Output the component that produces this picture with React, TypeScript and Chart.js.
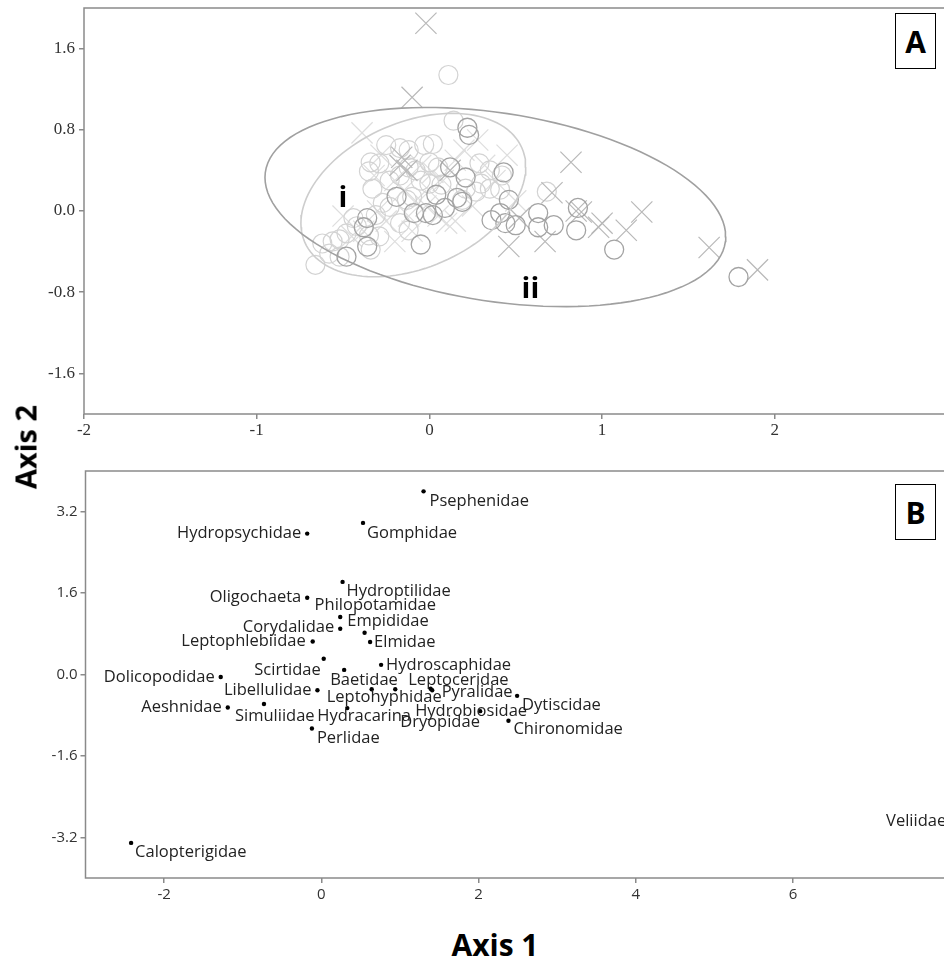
import React, { useEffect, useRef } from "react";
import { Chart, registerables } from "chart.js";
Chart.register(...registerables);

// ---------- Panel A: sample ordination ----------
const groupICircles: [number, number][] = [
  [0.14, 0.89], [0.11, 1.34], [0.02, 0.66], [-0.03, 0.65], [-0.25, 0.65], [-0.17, 0.62], [-0.12, 0.6],
  [-0.34, 0.48], [-0.29, 0.47], [-0.35, 0.39], [-0.12, 0.43], [-0.08, 0.4], [0.0, 0.48], [0.05, 0.43],
  [-0.23, 0.3], [-0.17, 0.35], [-0.05, 0.3], [0.0, 0.27], [0.07, 0.26], [-0.33, 0.22], [0.21, 0.22],
  [0.3, 0.27], [0.35, 0.22], [0.41, 0.21], [-0.27, 0.08], [-0.23, 0.04], [-0.13, 0.11], [-0.1, 0.14],
  [-0.31, -0.04], [-0.44, -0.07], [-0.42, -0.15], [-0.48, -0.22], [-0.56, -0.3], [-0.52, -0.28],
  [-0.62, -0.32], [-0.35, -0.24], [-0.29, -0.25], [-0.17, -0.12], [-0.12, -0.19], [-0.58, -0.42],
  [-0.52, -0.45], [-0.66, -0.53], [0.19, 0.11], [0.27, 0.19], [0.29, 0.47], [0.35, 0.4], [-0.34, -0.38],
  [0.42, 0.35], [0.68, 0.19],
];
const groupICrosses: [number, number][] = [
  [-0.39, 0.77], [-0.28, 0.55], [-0.2, 0.3], [-0.15, 0.2], [-0.08, 0.1], [-0.02, 0.05], [0.05, -0.05],
  [0.1, -0.12], [-0.3, 0.0], [-0.38, -0.2], [-0.45, -0.25], [-0.25, -0.1], [-0.2, -0.3], [-0.1, -0.2],
  [0.0, 0.2], [0.08, 0.3], [0.15, 0.5], [0.2, 0.6], [0.28, 0.7], [0.32, 0.45], [0.38, 0.3], [0.25, 0.05],
  [0.15, -0.1], [-0.05, 0.45], [-0.32, 0.35], [0.45, 0.55], [0.5, 0.1], [-0.5, -0.05], [0.02, 0.38],
  [-0.12, -0.05],
];
const groupIICircles: [number, number][] = [
  [1.79, -0.65], [1.07, -0.38], [0.85, -0.19], [0.86, 0.03], [0.72, -0.14], [0.63, -0.02], [0.63, -0.16],
  [0.5, -0.14], [0.44, -0.12], [0.36, -0.09], [0.41, -0.02], [0.46, 0.11], [0.43, 0.38], [0.21, 0.33],
  [0.12, 0.43], [0.22, 0.82], [0.23, 0.75], [0.16, 0.13], [0.19, 0.09], [0.09, 0.03], [0.04, 0.16],
  [0.02, -0.04], [-0.02, -0.02], [-0.09, -0.02], [-0.05, -0.33], [-0.19, 0.14], [-0.36, -0.07],
  [-0.38, -0.16], [-0.36, -0.35], [-0.48, -0.45],
];
const groupIICrosses: [number, number][] = [
  [1.9, -0.58], [1.62, -0.36], [1.23, -0.01], [1.14, -0.19], [0.98, -0.16], [1.0, -0.12], [0.88, -0.01],
  [0.85, 0.0], [0.82, 0.48], [0.71, 0.18], [0.67, -0.3], [0.46, -0.35], [0.52, -0.07], [-0.02, 1.85],
  [-0.1, 1.12], [-0.16, 0.53], [-0.17, 0.45], [-0.13, 0.4], [0.12, 0.4],
];
// ellipses: centre, spread along each axis, correlation
const ellipseI = { cx: -0.093, cy: 0.157, sx: 0.651, sy: 0.805, r: 0.345 };
const ellipseII = { cx: 0.382, cy: 0.039, sx: 1.334, sy: 0.981, r: -0.297 };
const groupLabels = ["i", "ii"];
const groupLabelPos: [number, number][] = [[-0.5, 0.12], [0.585, -0.775]];
const aXTicks = [-2, -1, 0, 1, 2];
const aYTicks = [-1.6, -0.8, 0, 0.8, 1.6];

// ---------- Panel B: family scores ----------
const families = [
  "Psephenidae", "Gomphidae", "Hydropsychidae", "Hydroptilidae", "Oligochaeta", "Philopotamidae",
  "Empididae", "Corydalidae", "Leptophlebiidae", "Elmidae", "Dolicopodidae", "Scirtidae",
  "Hydroscaphidae", "Baetidae", "Leptoceridae", "Libellulidae", "Leptohyphidae", "Pyralidae",
  "Dytiscidae", "Aeshnidae", "Simuliidae", "Hydracarina", "Hydrobiosidae", "Dryopidae",
  "Chironomidae", "Perlidae", "Calopterigidae", "Veliidae",
];
const familyAxis1 = [
  1.3, 0.53, -0.18, 0.27, -0.18, 0.55, 0.24, 0.24, -0.11, 0.62, -1.28, 0.03, 0.76, 0.29, 0.94, -0.05,
  0.64, 1.39, 2.49, -1.19, -0.73, 0.33, 2.02, 1.41, 2.38, -0.12, -2.42, 8.05,
];
const familyAxis2 = [
  3.6, 2.98, 2.77, 1.82, 1.51, 0.82, 1.13, 0.9, 0.65, 0.64, -0.05, 0.31, 0.19, 0.09, -0.29, -0.31,
  -0.29, -0.28, -0.42, -0.65, -0.58, -0.66, -0.72, -0.31, -0.91, -1.06, -3.31, -2.75,
];
// label placement relative to its point (pixels) and text alignment
const familyLabelPlacement: [number, number, CanvasTextAlign][] = [
  [6, 10, "left"], [4, 10, "left"], [-6, 0, "right"], [4, 9, "left"], [-6, 0, "right"], [-50, -27, "left"],
  [7, 4, "left"], [-6, -1, "right"], [-7, 0, "right"], [4, 0, "left"], [-6, 0, "right"], [-3, 12, "right"],
  [5, 0, "left"], [-14, 10, "left"], [13, -9, "left"], [-6, 0, "right"], [-45, 8, "left"], [11, 4, "left"],
  [5, 9, "left"], [-6, 0, "right"], [-29, 12, "left"], [-30, 8, "left"], [-65, 0, "left"], [-32, 32, "left"],
  [5, 9, "left"], [5, 10, "left"], [4, 9, "left"], [-8, 7, "right"],
];
const bXTicks = [-2, 0, 2, 4, 6];
const bYTicks = [-3.2, -1.6, 0, 1.6, 3.2];

function ellipsePoints(e: { cx: number; cy: number; sx: number; sy: number; r: number }) {
  const pts: { x: number; y: number }[] = [];
  const n = 120;
  const k = Math.sqrt(1 - e.r * e.r);
  for (let i = 0; i <= n; i++) {
    const t = (i / n) * Math.PI * 2;
    pts.push({ x: e.cx + e.sx * Math.cos(t), y: e.cy + e.sy * (e.r * Math.cos(t) + k * Math.sin(t)) });
  }
  return pts;
}
const toXY = (arr: [number, number][]) => arr.map(([x, y]) => ({ x, y }));

const boxPlugin = {
  id: "panelBox",
  afterDraw(chart: any) {
    const { ctx, chartArea: a } = chart;
    ctx.save();
    ctx.strokeStyle = "#8a8a8a";
    ctx.lineWidth = 1.5;
    ctx.strokeRect(a.left, a.top, a.right - a.left + 10, a.bottom - a.top);
    ctx.restore();
  },
};

const groupLabelPlugin = {
  id: "groupLabels",
  afterDatasetsDraw(chart: any) {
    const { ctx, scales } = chart;
    ctx.save();
    ctx.font = 'bold 29px "Open Sans"';
    ctx.fillStyle = "#000";
    ctx.textAlign = "center";
    ctx.textBaseline = "middle";
    groupLabels.forEach((t, i) => {
      ctx.fillText(t, scales.x.getPixelForValue(groupLabelPos[i][0]), scales.y.getPixelForValue(groupLabelPos[i][1]));
    });
    ctx.restore();
  },
};

const familyLabelPlugin = {
  id: "familyLabels",
  afterDatasetsDraw(chart: any) {
    const { ctx } = chart;
    const meta = chart.getDatasetMeta(0);
    ctx.save();
    ctx.font = '16.5px "Open Sans"';
    ctx.fillStyle = "#222";
    ctx.textBaseline = "middle";
    meta.data.forEach((pt: any, i: number) => {
      const [dx, dy, al] = familyLabelPlacement[i];
      ctx.textAlign = al;
      ctx.fillText(families[i], pt.x + dx, pt.y + dy);
    });
    ctx.restore();
  },
};

function tickSetter(values: number[]) {
  return (s: any) => {
    s.ticks = values.map((v) => ({ value: v }));
  };
}
function fitX(h: number) {
  return (s: any) => { s.height = h; s.paddingLeft = 0; s.paddingRight = 0; };
}
function fitY(w: number) {
  return (s: any) => { s.width = w; s.paddingTop = 0; s.paddingBottom = 0; };
}

export default function App() {
  const refA = useRef<HTMLCanvasElement>(null);
  const refB = useRef<HTMLCanvasElement>(null);

  useEffect(() => {
    const tickGrid = { display: true, drawOnChartArea: false, drawTicks: true, tickLength: 5, color: "#8a8a8a", lineWidth: 1.5 };
    const chartA = new Chart(refA.current!, {
      type: "scatter",
      data: {
        datasets: [
          { data: ellipsePoints(ellipseII), showLine: true, pointRadius: 0, borderColor: "#a0a0a0", borderWidth: 1.6, order: 0 } as any,
          { data: ellipsePoints(ellipseI), showLine: true, pointRadius: 0, borderColor: "#cdcdcd", borderWidth: 1.6, order: 1 } as any,
          { data: toXY(groupIICircles), pointStyle: "circle", pointRadius: 9.5, pointBorderWidth: 1.3, pointBorderColor: "#a3a3a3", pointBackgroundColor: "rgba(0,0,0,0)", order: 2 },
          { data: toXY(groupIICrosses), pointStyle: "crossRot", pointRadius: 15, pointBorderWidth: 1.2, pointBorderColor: "#b8b8b8", pointBackgroundColor: "rgba(0,0,0,0)", order: 3 },
          { data: toXY(groupICircles), pointStyle: "circle", pointRadius: 9.5, pointBorderWidth: 1.2, pointBorderColor: "#d3d3d3", pointBackgroundColor: "rgba(0,0,0,0)", order: 4 },
          { data: toXY(groupICrosses), pointStyle: "crossRot", pointRadius: 15, pointBorderWidth: 1.2, pointBorderColor: "#dedede", pointBackgroundColor: "rgba(0,0,0,0)", order: 5 },
        ],
      },
      options: {
        responsive: false,
        animation: false,
        devicePixelRatio: 1,
        events: [],
        layout: { autoPadding: false, padding: { left: 0, top: 8, right: 0, bottom: 0 } },
        plugins: { legend: { display: false }, tooltip: { enabled: false } },
        scales: {
          x: {
            type: "linear", min: -2, max: 2.98,
            afterBuildTicks: tickSetter(aXTicks),
            afterFit: fitX(26),
            grid: tickGrid, border: { display: false },
            ticks: { color: "#333", padding: 1, font: { family: "Liberation Serif", size: 17 }, callback: (v: any) => String(v) },
          },
          y: {
            type: "linear", min: -2, max: 2,
            afterBuildTicks: tickSetter(aYTicks),
            afterFit: fitY(84),
            grid: tickGrid, border: { display: false },
            ticks: { color: "#333", padding: 4, font: { family: "Liberation Serif", size: 17 }, callback: (v: any) => Number(v).toFixed(1) },
          },
        },
      },
      plugins: [boxPlugin, groupLabelPlugin],
    });

    const chartB = new Chart(refB.current!, {
      type: "scatter",
      data: {
        datasets: [
          {
            data: familyAxis1.map((x, i) => ({ x, y: familyAxis2[i] })),
            pointStyle: "circle", pointRadius: 2.2, pointBorderWidth: 0, pointBackgroundColor: "#000",
          },
        ],
      },
      options: {
        responsive: false,
        animation: false,
        devicePixelRatio: 1,
        events: [],
        layout: { autoPadding: false, padding: { left: 0, top: 11, right: 0, bottom: 0 } },
        plugins: { legend: { display: false }, tooltip: { enabled: false } },
        scales: {
          x: {
            type: "linear", min: -3, max: 7.92,
            afterBuildTicks: tickSetter(bXTicks),
            afterFit: fitX(32),
            grid: tickGrid, border: { display: false },
            ticks: { color: "#333", padding: 3, font: { family: "Open Sans", size: 15 }, callback: (v: any) => String(v) },
          },
          y: {
            type: "linear", min: -4, max: 4,
            afterBuildTicks: tickSetter(bYTicks),
            afterFit: fitY(85.5),
            grid: tickGrid, border: { display: false },
            ticks: { color: "#333", padding: 3, font: { family: "Open Sans", size: 15 }, callback: (v: any) => Number(v).toFixed(1) },
          },
        },
      },
      plugins: [boxPlugin, familyLabelPlugin],
    });

    return () => {
      chartA.destroy();
      chartB.destroy();
    };
  }, []);

  const boxStyle: React.CSSProperties = {
    position: "absolute", width: 41, height: 56, border: "1.3px solid #000", background: "#fff",
    display: "flex", alignItems: "center", justifyContent: "center",
    font: 'bold 30px "Open Sans"', color: "#000", boxSizing: "border-box",
  };

  return (
    <div style={{ position: "absolute", left: 0, top: 0, width: 944, height: 960, background: "#fff", overflow: "hidden" }}>
      <canvas ref={refA} width={944} height={440} style={{ position: "absolute", left: 0, top: 0 }} />
      <canvas ref={refB} width={944} height={450} style={{ position: "absolute", left: 0, top: 460 }} />
      <div style={{ ...boxStyle, left: 895, top: 13 }}>A</div>
      <div style={{ ...boxStyle, left: 895, top: 484 }}>B</div>
      <div
        style={{
          position: "absolute", left: 25, top: 447, transform: "translate(-50%, -50%) rotate(-90deg)",
          font: 'bold 29px "Open Sans"', color: "#000", whiteSpace: "nowrap",
        }}
      >
        Axis 2
      </div>
      <div
        style={{
          position: "absolute", left: 495, top: 944, transform: "translate(-50%, -50%)",
          font: 'bold 30px "Open Sans"', color: "#000", whiteSpace: "nowrap",
        }}
      >
        Axis 1
      </div>
    </div>
  );
}
